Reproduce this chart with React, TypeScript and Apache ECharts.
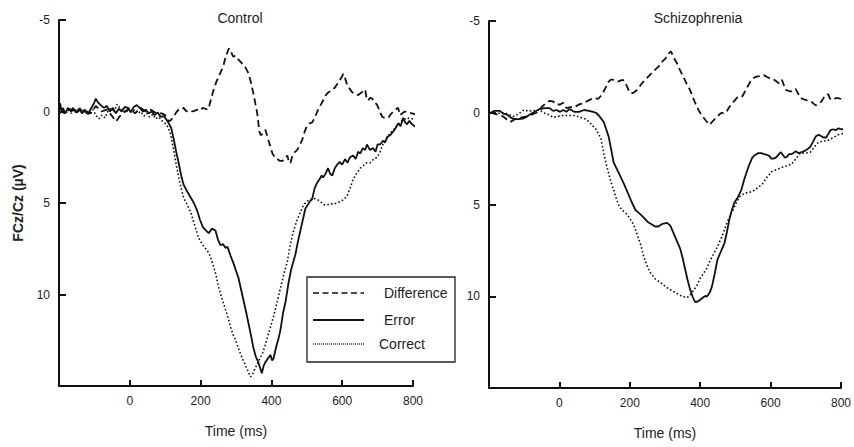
import React, { useEffect, useRef } from "react";
import * as echarts from "echarts";

const panelTitles = ["Control", "Schizophrenia"];
const legendNames = ["Difference", "Error", "Correct"];
const xAxisName = "Time (ms)";
const yAxisName = "FCz/Cz (µV)";

// [time (ms), amplitude (µV)]
const controlDifference: number[][] = [
  [-197, -0.2], [-185, 0.1], [-170, -0.15], [-155, 0.1], [-140, -0.1], [-125, 0.05], [-110, 0.1], [-96, -0.3],
  [-80, 0], [-65, -0.1], [-50, 0.25], [-39, 0.55], [-30, 0.3], [-15, 0.0], [0, -0.15], [15, 0.1], [30, -0.2],
  [45, 0], [60, -0.1], [75, 0.1], [90, 0.1], [100, 0.2], [110, 0.55], [117, 0.45], [124, 0.3], [131, 0.05],
  [138, -0.1], [145, -0.1], [152, -0.2], [158, -0.05], [163, 0], [170, -0.05], [177, 0], [184, -0.05],
  [192, -0.1], [199, -0.05], [206, -0.2], [213, -0.15], [220, -0.1], [225, -0.35], [231, -0.8], [237, -1.2],
  [244, -1.6], [251, -1.9], [258, -2.2], [265, -2.55], [271, -3.0], [276, -3.25], [280, -3.45], [285, -3.3],
  [292, -3.0], [299, -3.05], [304, -2.9], [311, -2.75], [318, -2.6], [327, -2.4], [335, -2.1], [342, -1.6],
  [349, -1.0], [355, -0.4], [360, 0.1], [366, 1.1], [370, 1.3], [375, 1.2], [383, 1.0], [392, 1.6], [403, 2.3],
  [410, 2.5], [417, 2.6], [424, 2.7], [431, 2.7], [438, 2.6], [445, 2.4], [450, 2.8], [454, 2.8], [458, 2.5],
  [462, 2.3], [473, 2.1], [480, 1.85], [487, 1.55], [494, 1.1], [501, 0.75], [508, 0.65], [515, 0.6],
  [522, 0.35], [532, -0.1], [539, -0.35], [546, -0.6], [552, -0.85], [558, -1.0], [565, -1.1], [572, -1.2],
  [579, -1.3], [586, -1.5], [593, -1.7], [599, -1.9], [603, -2.05], [607, -1.9], [614, -1.45], [621, -1.25],
  [628, -1.05], [637, -0.95], [645, -0.9], [652, -1.0], [658, -1.1], [665, -1.2], [669, -0.7], [673, -0.6],
  [679, -0.75], [685, -0.7], [692, -0.5], [699, -0.35], [706, 0.0], [713, 0.3], [721, 0.35], [730, 0.35],
  [737, 0.15], [744, 0.0], [751, -0.1], [758, -0.2], [763, 0.2], [770, 0.1], [777, 0.0], [785, 0.05],
  [797, 0.1], [805, 0.15], [814, 0.1],
];

const controlError: number[][] = [
  [-197, -0.45], [-192, 0.05], [-189, -0.2], [-183, 0.1], [-175, -0.2], [-166, 0], [-161, -0.2], [-152, 0.05],
  [-144, -0.15], [-135, 0.1], [-127, -0.1], [-118, 0.15], [-110, -0.15], [-101, -0.45], [-96, -0.7],
  [-90, -0.5], [-82, -0.35], [-73, -0.2], [-65, -0.3], [-56, 0], [-48, -0.2], [-39, 0.1], [-31, -0.15],
  [-23, 0], [-14, -0.25], [-6, -0.2], [3, 0.05], [11, -0.25], [20, -0.35], [28, -0.2], [37, 0], [45, -0.1],
  [54, 0.1], [62, 0], [70, 0.2], [79, 0.05], [87, 0.3], [96, 0.25], [104, 0.45], [110, 0.65], [117, 0.9],
  [124, 1.5], [131, 2.2], [138, 2.8], [145, 3.5], [152, 4.0], [160, 4.3], [172, 4.7], [181, 5.0], [190, 5.4],
  [198, 5.9], [206, 6.3], [215, 6.5], [223, 6.65], [232, 6.4], [242, 6.5], [249, 7.0], [256, 7.3],
  [264, 7.25], [270, 7.45], [276, 7.4], [285, 7.9], [293, 8.3], [300, 8.7], [307, 9.1], [314, 9.7],
  [321, 10.3], [328, 10.9], [335, 11.55], [342, 12.2], [349, 12.9], [356, 13.4], [363, 13.7], [368, 14.0],
  [373, 14.3], [378, 13.9], [383, 13.7], [390, 13.5], [397, 13.3], [402, 13.6], [406, 13.5], [413, 12.9],
  [420, 12.4], [425, 12.0], [433, 11.0], [440, 10.4], [448, 9.4], [455, 8.7], [462, 8.2], [468, 7.8],
  [475, 7.1], [482, 6.5], [489, 5.9], [496, 5.3], [503, 5.1], [509, 4.9], [515, 4.8], [522, 4.2], [529, 3.9],
  [536, 3.7], [542, 3.5], [546, 3.6], [553, 3.4], [560, 3.1], [566, 3.4], [572, 3.5], [579, 3.1], [586, 2.9],
  [593, 2.75], [600, 2.9], [608, 2.6], [615, 2.8], [622, 2.5], [631, 2.4], [638, 2.6], [645, 2.2],
  [651, 2.3], [658, 2.0], [665, 2.1], [670, 1.8], [678, 2.1], [687, 2.0], [694, 2.2], [700, 1.8], [707, 1.8],
  [715, 1.6], [721, 1.7], [727, 1.4], [735, 1.3], [744, 1.1], [751, 0.9], [758, 0.65], [765, 0.8],
  [772, 0.35], [778, 0.6], [783, 0.7], [790, 0.5], [797, 0.7], [805, 0.8], [814, 1.0],
];

const controlCorrect: number[][] = [
  [-197, 0.1], [-190, -0.1], [-182, 0.15], [-174, -0.1], [-165, 0.1], [-157, -0.15], [-148, 0.05],
  [-140, -0.2], [-131, 0.05], [-122, -0.05], [-113, 0.1], [-104, -0.1], [-96, 0.2], [-87, 0.4], [-79, 0.2],
  [-70, 0.35], [-62, 0.0], [-53, -0.2], [-45, 0.05], [-36, -0.4], [-28, -0.2], [-20, -0.1], [-11, 0.1],
  [-3, -0.2], [6, 0.0], [14, -0.1], [23, 0.1], [31, 0.0], [40, 0.25], [48, 0.1], [56, 0.3], [65, 0.15],
  [73, 0.4], [82, 0.3], [90, 0.5], [98, 0.6], [106, 0.8], [113, 1.1], [119, 1.6], [124, 2.1], [131, 2.9],
  [138, 3.6], [145, 4.2], [152, 4.7], [162, 5.1], [172, 5.5], [183, 6.2], [194, 6.9], [206, 7.3], [219, 7.6],
  [227, 7.9], [234, 8.3], [243, 8.9], [251, 9.6], [260, 10.2], [270, 10.8], [278, 11.3], [285, 11.8],
  [292, 12.2], [299, 12.5], [308, 13.0], [318, 13.5], [325, 13.8], [332, 14.1], [341, 14.5], [348, 14.3],
  [355, 14.0], [365, 13.6], [375, 13.2], [382, 12.8], [389, 12.3], [397, 11.8], [406, 11.2], [415, 10.5],
  [425, 9.7], [435, 8.9], [445, 8.2], [454, 7.2], [463, 6.5], [473, 5.9], [482, 5.5], [491, 5.1], [501, 4.9],
  [510, 4.8], [520, 4.75], [529, 4.8], [540, 4.95], [550, 5.1], [558, 5.1], [567, 5.05], [577, 5.05],
  [586, 5.0], [597, 4.9], [605, 4.8], [614, 4.6], [622, 4.2], [631, 3.7], [640, 3.4], [651, 3.1], [660, 2.95],
  [670, 2.8], [679, 2.8], [689, 2.6], [699, 2.5], [707, 2.2], [715, 1.8], [725, 1.5], [735, 1.2], [745, 1.0],
  [754, 0.8], [763, 0.6], [772, 0.45], [783, 0.35], [792, 0.4], [800, 0.4], [810, 0.35], [818, 0.4],
];

const schizDifference: number[][] = [
  [-195, 0], [-175, 0.1], [-160, 0.2], [-150, 0.35], [-140, 0.5], [-130, 0.4], [-121, 0.3], [-107, 0.25],
  [-93, 0.2], [-79, 0.1], [-65, 0], [-51, -0.3], [-37, -0.55], [-27, -0.65], [-17, -0.6], [-8, -0.45],
  [2, -0.45], [11, -0.55], [20, -0.25], [31, -0.3], [42, -0.3], [56, -0.45], [66, -0.5], [76, -0.6],
  [86, -0.7], [96, -0.8], [103, -0.8], [110, -0.75], [117, -0.9], [124, -1.1], [132, -1.4], [140, -1.7],
  [146, -1.8], [152, -1.8], [159, -1.75], [166, -1.7], [173, -1.75], [180, -1.8], [188, -1.6], [193, -1.4],
  [197, -1.2], [204, -1.05], [211, -1.1], [218, -1.2], [225, -1.35], [234, -1.6], [244, -1.8], [254, -2.0],
  [264, -2.2], [272, -2.35], [281, -2.5], [290, -2.75], [301, -2.95], [309, -3.2], [317, -3.35], [325, -3.0],
  [334, -2.7], [342, -2.35], [351, -2.0], [361, -1.6], [371, -1.25], [380, -0.8], [390, -0.35], [398, -0.05],
  [407, 0.2], [417, 0.45], [427, 0.65], [436, 0.45], [446, 0.25], [454, 0.1], [461, 0.0], [468, 0.05],
  [475, -0.05], [482, -0.3], [489, -0.45], [497, -0.65], [506, -0.85], [513, -0.9], [520, -0.9],
  [527, -1.15], [534, -1.4], [541, -1.65], [548, -1.85], [557, -1.95], [567, -2.0], [575, -2.05],
  [581, -2.05], [590, -1.95], [600, -1.85], [610, -1.8], [617, -1.7], [624, -1.6], [632, -1.8], [638, -1.5],
  [643, -1.25], [650, -1.2], [657, -1.15], [664, -1.25], [671, -1.3], [678, -1.05], [685, -0.8], [692, -0.75],
  [699, -0.7], [708, -0.65], [716, -0.6], [722, -0.5], [728, -0.4], [736, -0.5], [744, -0.6], [752, -0.85],
  [758, -1.0], [764, -1.0], [768, -0.8], [772, -0.7], [780, -0.75], [786, -0.8], [792, -0.8], [800, -0.75],
  [808, -0.6], [815, -0.55],
];

const schizError: number[][] = [
  [-195, 0], [-185, -0.1], [-169, -0.1], [-160, 0.05], [-149, 0.1], [-139, 0.25], [-129, 0.35], [-115, 0.35],
  [-101, 0.3], [-92, 0.2], [-84, 0.1], [-70, -0.05], [-56, -0.2], [-42, -0.25], [-28, -0.25], [-18, -0.1],
  [-8, -0.15], [2, -0.05], [11, -0.15], [20, -0.05], [28, -0.2], [42, -0.05], [56, -0.05], [70, -0.15],
  [84, -0.1], [96, -0.05], [104, 0], [112, 0.15], [120, 0.35], [126, 0.5], [133, 0.9], [140, 1.3],
  [147, 2.0], [154, 2.7], [164, 3.1], [174, 3.5], [184, 3.9], [194, 4.35], [205, 4.85], [216, 5.3],
  [228, 5.5], [239, 5.7], [251, 5.95], [264, 6.1], [272, 6.2], [281, 6.2], [293, 6.05], [306, 6.0],
  [315, 6.15], [323, 6.5], [333, 6.95], [343, 7.4], [350, 7.9], [357, 8.5], [364, 9.1], [371, 9.6],
  [378, 10.0], [385, 10.3], [392, 10.3], [399, 10.2], [406, 10.1], [413, 10.0], [420, 10.0], [427, 9.8],
  [433, 9.5], [441, 8.8], [449, 8.0], [458, 7.6], [469, 7.1], [476, 6.5], [483, 5.8], [490, 5.3], [497, 4.9],
  [507, 4.6], [517, 4.2], [524, 3.7], [531, 3.3], [539, 2.85], [548, 2.45], [556, 2.3], [565, 2.2],
  [573, 2.2], [582, 2.25], [590, 2.3], [596, 2.35], [602, 2.5], [607, 2.5], [615, 2.45], [622, 2.3],
  [629, 2.15], [635, 2.3], [641, 2.45], [646, 2.4], [653, 2.25], [660, 2.25], [665, 2.2], [671, 2.1],
  [680, 2.2], [688, 2.15], [694, 2.1], [700, 2.05], [707, 1.95], [713, 1.85], [720, 1.6], [728, 1.3],
  [736, 1.2], [742, 1.25], [750, 1.35], [758, 1.35], [764, 1.15], [770, 0.95], [778, 0.9], [785, 0.95],
  [793, 0.85], [801, 0.9], [808, 0.9], [815, 0.85],
];

const schizCorrect: number[][] = [
  [-195, 0], [-180, 0.05], [-157, 0], [-143, 0.1], [-129, 0.2], [-115, 0.05], [-101, -0.15], [-90, -0.1],
  [-75, -0.1], [-56, -0.15], [-45, 0], [-31, 0.1], [-17, 0.25], [-5, 0.2], [11, 0.15], [25, 0.15],
  [39, 0.15], [53, 0.2], [67, 0.3], [76, 0.35], [84, 0.5], [94, 0.7], [104, 0.9], [111, 1.15], [118, 1.4],
  [126, 2.2], [133, 2.8], [140, 3.3], [147, 3.8], [154, 4.2], [162, 4.7], [169, 5.05], [178, 5.3],
  [188, 5.45], [198, 5.7], [208, 6.0], [215, 6.3], [222, 6.7], [231, 7.2], [239, 7.8], [248, 8.3],
  [258, 8.7], [272, 9.05], [287, 9.25], [303, 9.5], [320, 9.7], [334, 9.85], [348, 10.0], [358, 10.05],
  [365, 10.05], [375, 9.85], [382, 9.65], [390, 9.45], [399, 9.05], [408, 8.8], [418, 8.5], [426, 8.15],
  [435, 7.8], [449, 7.3], [463, 6.7], [476, 6.0], [489, 5.45], [503, 4.9], [511, 4.6], [520, 4.45],
  [534, 4.35], [548, 4.3], [562, 4.1], [576, 3.9], [590, 3.5], [604, 3.2], [617, 3.1], [629, 3.0],
  [645, 2.9], [660, 2.8], [672, 2.5], [685, 2.2], [699, 2.2], [713, 2.15], [725, 1.85], [736, 1.6],
  [750, 1.55], [764, 1.5], [778, 1.35], [792, 1.2], [803, 1.15], [812, 1.1],
];

const FONT = "Arial, 'Liberation Sans', sans-serif";
const INK = "#111";

const dashed = [7, 4];
const dotted = [1.6, 2.2];

function makeXAxis(gridIndex: number) {
  return {
    type: "value",
    gridIndex,
    min: -200,
    max: 800,
    interval: 200,
    name: xAxisName,
    nameLocation: "middle",
    nameGap: 38,
    nameTextStyle: { fontFamily: FONT, fontSize: 14, color: "#222" },
    axisLine: { show: true, onZero: false, lineStyle: { color: INK, width: 2 } },
    axisTick: { show: true, inside: true, length: 6, lineStyle: { color: INK, width: 2 } },
    axisLabel: { showMinLabel: false, margin: 9, fontFamily: FONT, fontSize: 12, color: "#222" },
    splitLine: { show: false },
  };
}

function makeYAxis(gridIndex: number, withName: boolean) {
  return {
    type: "value",
    gridIndex,
    inverse: true,
    min: -5,
    max: 15,
    interval: 5,
    name: withName ? yAxisName : "",
    nameLocation: "middle",
    nameGap: 34,
    nameTextStyle: { fontFamily: FONT, fontSize: 14, fontWeight: "bold", color: "#222" },
    axisLine: { show: true, onZero: false, lineStyle: { color: INK, width: 2 } },
    axisTick: { show: true, inside: true, length: 7, lineStyle: { color: INK, width: 2 } },
    axisLabel: { showMaxLabel: false, margin: 9, fontFamily: FONT, fontSize: 12, color: "#222" },
    splitLine: { show: false },
  };
}

function line(name: string, data: number[][], idx: number, type: any, width: number) {
  return {
    type: "line",
    name,
    data,
    xAxisIndex: idx,
    yAxisIndex: idx,
    symbol: "none",
    showSymbol: false,
    clip: false,
    lineStyle: { color: INK, width, type, cap: "butt" },
    z: 3,
  };
}

export default function App() {
  const ref = useRef<HTMLDivElement>(null);

  useEffect(() => {
    if (!ref.current) return;
    const chart = echarts.init(ref.current, undefined, { renderer: "svg" });
    const legendY = [293, 320, 344];
    const option: any = {
      animation: false,
      backgroundColor: "#fff",
      title: [
        {
          text: panelTitles[0],
          left: 235,
          top: 6,
          textAlign: "center",
          textStyle: { fontFamily: FONT, fontSize: 14, fontWeight: "normal", color: "#222" },
        },
        {
          text: panelTitles[1],
          left: 693,
          top: 6,
          textAlign: "center",
          textStyle: { fontFamily: FONT, fontSize: 14, fontWeight: "normal", color: "#222" },
        },
      ],
      grid: [
        { left: 59, right: 441, top: 20, bottom: 61 },
        { left: 489, right: 11, top: 21, bottom: 59 },
      ],
      xAxis: [makeXAxis(0), makeXAxis(1)],
      yAxis: [makeYAxis(0, true), makeYAxis(1, false)],
      series: [
        line(legendNames[0], controlDifference, 0, dashed, 1.8),
        line(legendNames[1], controlError, 0, "solid", 1.8),
        line(legendNames[2], controlCorrect, 0, dotted, 1.6),
        line(legendNames[0], schizDifference, 1, dashed, 1.8),
        line(legendNames[1], schizError, 1, "solid", 1.8),
        line(legendNames[2], schizCorrect, 1, dotted, 1.6),
      ],
      graphic: [
        {
          type: "rect",
          shape: { x: 307, y: 277, width: 148, height: 85 },
          style: { fill: "#fff", stroke: "#222", lineWidth: 1.3 },
          z: 10,
        },
        {
          type: "line",
          shape: { x1: 313, y1: legendY[0], x2: 364, y2: legendY[0] },
          style: { stroke: INK, lineWidth: 1.5, lineDash: [6, 3.5] },
          z: 11,
        },
        {
          type: "line",
          shape: { x1: 313, y1: legendY[1], x2: 364, y2: legendY[1] },
          style: { stroke: INK, lineWidth: 1.8 },
          z: 11,
        },
        {
          type: "line",
          shape: { x1: 313, y1: legendY[2], x2: 364, y2: legendY[2] },
          style: { stroke: "#333", lineWidth: 1.4, lineDash: [1, 1] },
          z: 11,
        },
        {
          type: "text",
          x: 384,
          y: legendY[0],
          style: { text: legendNames[0], fontFamily: FONT, fontSize: 14, fill: "#222", textVerticalAlign: "middle", verticalAlign: "middle" },
          z: 11,
        },
        {
          type: "text",
          x: 384,
          y: legendY[1],
          style: { text: legendNames[1], fontFamily: FONT, fontSize: 14, fill: "#222", textVerticalAlign: "middle", verticalAlign: "middle" },
          z: 11,
        },
        {
          type: "text",
          x: 379,
          y: legendY[2],
          style: { text: legendNames[2], fontFamily: FONT, fontSize: 14, fill: "#222", textVerticalAlign: "middle", verticalAlign: "middle" },
          z: 11,
        },
      ],
    };
    chart.setOption(option);
    return () => chart.dispose();
  }, []);

  return (
    <div
      ref={ref}
      style={{ position: "fixed", left: 0, top: 0, width: 854, height: 447, background: "#fff" }}
    />
  );
}
